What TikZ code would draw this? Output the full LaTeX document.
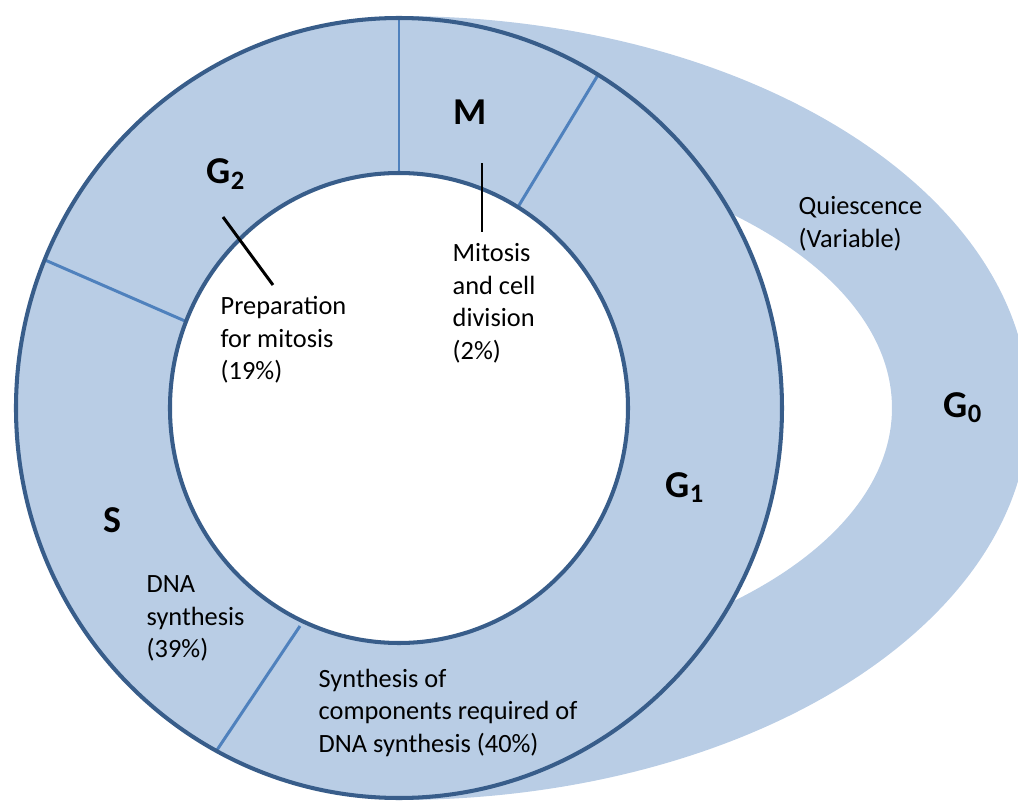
\documentclass[tikz,border=0pt]{standalone}
\usepackage{fontspec}
\setmainfont{Carlito}
\definecolor{phasefill}{HTML}{B9CDE5}
\definecolor{phaseedge}{HTML}{385D8A}
\definecolor{phasesplit}{HTML}{4F81BD}

\begin{document}
\begin{tikzpicture}[
    edge/.style={line width=1.15pt,color=phaseedge},
    split/.style={line width=0.85pt,color=phasesplit},
    pointer/.style={line width=0.85pt,color=black},
    phase/.style={anchor=base west,inner sep=0pt,font=\fontsize{10.8}{13}\selectfont\bfseries},
    note/.style={anchor=north west,inner sep=0pt,align=left,font=\fontsize{7.5}{9.25}\selectfont}]
      \clip (-3.99,-3.94) rectangle (6.19,4.08);

      % quiescent band behind the cycle
      \fill [phasefill] (0,-3.92) arc [start angle=-90,end angle=90,x radius=6.30,y radius=3.92]
            -- (0,2.63) arc [start angle=90,end angle=-90,x radius=4.93,y radius=2.63] -- cycle;

      % the cycle
      \fill [phasefill] (0,0) ellipse (3.83 and 3.90);
      \fill [white] (0,0) ellipse (2.29 and 2.35);

      \draw [split] (0,2.35) -- (0,3.90);
      \draw [split] (1.19,2.01) -- (1.99,3.33);
      \draw [split] (-2.14,0.87) -- (-3.54,1.48);
      \draw [split] (-0.99,-2.18) -- (-1.82,-3.42);

      \draw [edge] (0,0) ellipse (3.83 and 3.90);
      \draw [edge] (0,0) ellipse (2.29 and 2.35);

      % phase names
      \node [phase] (m) at (0.54,2.84) {M};
      \node [phase] (gtwo) at (-1.93,2.24) {G\textsubscript{2}};
      \node [phase] (gone) at (2.66,-0.89) {G\textsubscript{1}};
      \node [phase] (gzero) at (5.44,-0.09) {G\textsubscript{0}};
      \node [phase] (s) at (-2.96,-1.25) {S};

      % descriptions
      \node [note] (prep) at (-1.79,1.12) {Preparation\\for mitosis\\(19\%)};
      \node [note] (mito) at (0.53,1.65) {Mitosis\\and cell\\division\\(2\%)};
      \node [note] (quie) at (3.99,2.12) {Quiescence\\(Variable)};
      \node [note] (dna) at (-2.53,-1.67) {DNA\\synthesis\\(39\%)};
      \node [note] (comp) at (-0.81,-2.60) {Synthesis of\\components required of\\DNA synthesis (40\%)};

      \coordinate (gtwotip) at (-1.76,1.91);
      \coordinate (preptip) at (-1.26,1.23);
      \coordinate (mtip) at (0.83,2.45);
      \coordinate (mitotip) at (0.83,1.76);
      \draw [pointer] (gtwotip) -- (preptip);
      \draw [pointer] (mtip) -- (mitotip);

    \end{tikzpicture}
\end{document}
